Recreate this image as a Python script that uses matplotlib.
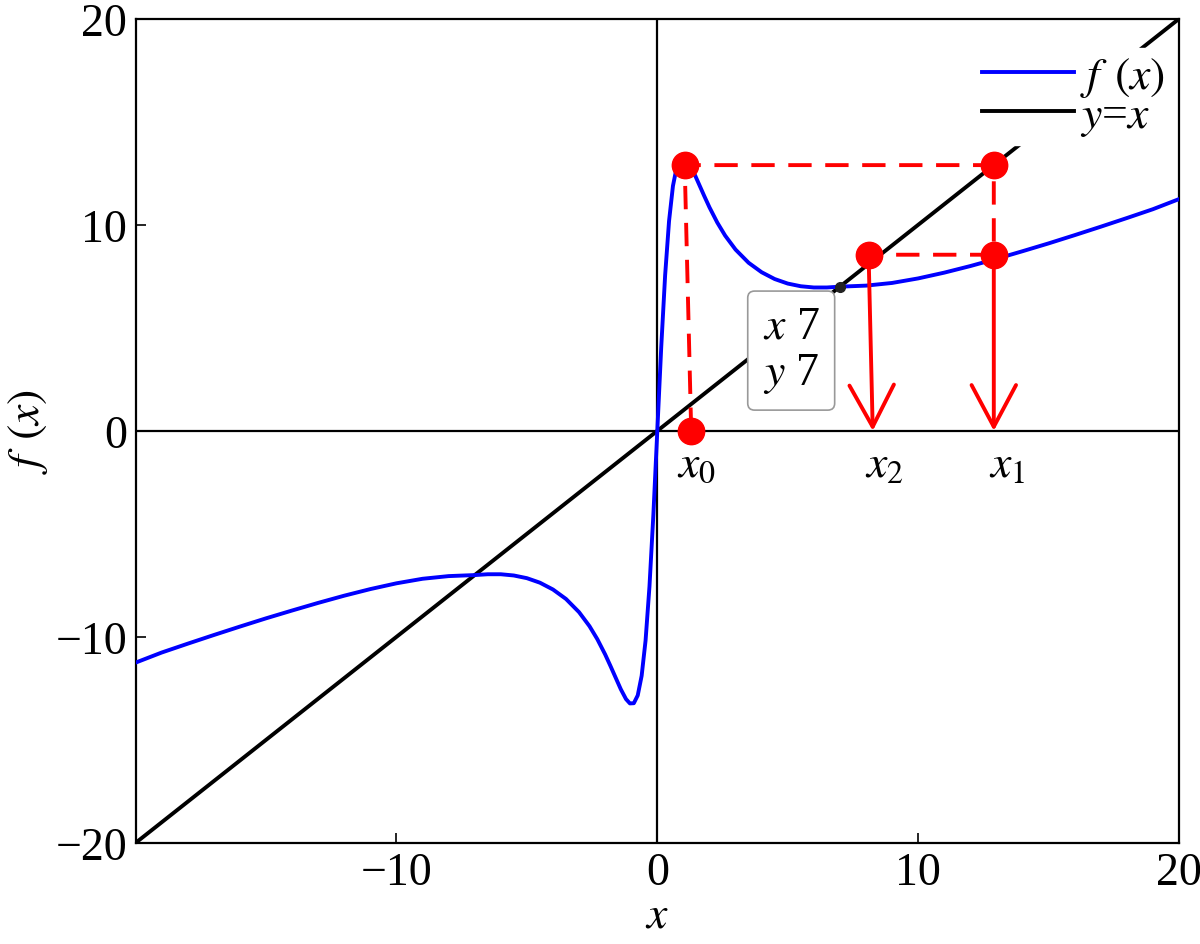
import numpy as np
import matplotlib.pyplot as plt

plt.rcParams['font.family'] = ['Liberation Serif', 'DejaVu Serif']
plt.rcParams['mathtext.fontset'] = 'stix'

# f(x) (odd symmetric curve)
x_pos = [0, 0.15, 0.3, 0.45, 0.6, 0.75, 0.9, 1.05, 1.2, 1.4, 1.6, 1.8, 2.0, 2.3, 2.6,
         3.0, 3.5, 4.0, 4.5, 5.0, 5.5, 6.0, 6.5, 7.0, 8.0, 9.0, 10, 11, 12, 13, 14,
         15, 16, 17, 18, 19, 20]
f_pos = [0, 4.05, 7.55, 10.18, 11.89, 12.84, 13.22, 13.23, 13.02, 12.54, 11.97, 11.40,
         10.85, 10.11, 9.48, 8.80, 8.16, 7.70, 7.37, 7.15, 7.02, 6.96, 6.96, 7.0, 7.05,
         7.18, 7.40, 7.68, 8.0, 8.35, 8.72, 9.10, 9.50, 9.91, 10.33, 10.76, 11.25]
x_neg = [-20, -19, -18, -17, -16, -15, -14, -13, -12, -11, -10, -9.0, -8.0, -7.0, -6.5,
         -6.0, -5.5, -5.0, -4.5, -4.0, -3.5, -3.0, -2.6, -2.3, -2.0, -1.8, -1.6, -1.4,
         -1.2, -1.05, -0.9, -0.75, -0.6, -0.45, -0.3, -0.15]
f_neg = [-11.25, -10.76, -10.33, -9.91, -9.50, -9.10, -8.72, -8.35, -8.0, -7.68, -7.40,
         -7.18, -7.05, -7.0, -6.96, -6.96, -7.02, -7.15, -7.37, -7.70, -8.16, -8.80,
         -9.48, -10.11, -10.85, -11.40, -11.97, -12.54, -13.02, -13.23, -13.22, -12.84,
         -11.89, -10.18, -7.55, -4.05]
curve_x = x_neg + x_pos
curve_y = f_neg + f_pos

line_x = [-20, 20]
line_y = [-20, 20]

# iteration points
dots_x = [1.3, 1.05, 12.9, 12.9, 8.1]
dots_y = [0, 12.9, 12.9, 8.55, 8.55]
dash_x = [1.3, 1.05, 12.9, 12.9, 8.1]
dash_y = [0, 12.9, 12.9, 8.55, 8.55]
arrow_start = [(8.1, 8.55), (12.9, 8.55)]
arrow_end = [(8.26, 0), (12.9, 0)]
labels = [r'$x_0$', r'$x_2$', r'$x_1$']
label_x = [1.5, 8.7, 13.4]
tip_x, tip_y = 7, 7

fig = plt.figure(figsize=(12, 9.45), dpi=100)
ax = fig.add_axes([0.113, 0.107, 0.8695, 0.872])

ax.axhline(0, color='black', lw=1.6, zorder=1)
ax.axvline(0, color='black', lw=1.6, zorder=1)
ax.plot(curve_x, curve_y, color='blue', lw=2.8, label=r'$f\;\,(x)$', zorder=3)
ax.plot(line_x, line_y, color='black', lw=2.8, label=r'$y$=$x$', zorder=2)

ax.plot(dash_x, dash_y, color='red', lw=2.8, dashes=(6, 3.5), zorder=4)
ax.plot(dots_x, dots_y, 'o', color='red', ms=19, zorder=5)
for s, e in zip(arrow_start, arrow_end):
    ax.annotate('', xy=e, xytext=s,
                arrowprops=dict(arrowstyle='->,head_length=3.0,head_width=1.6',
                                color='red', lw=2.8, shrinkA=0, shrinkB=0), zorder=4)
for lab, lx in zip(labels, label_x):
    ax.text(lx, -0.6, lab, fontsize=33, ha='center', va='top')

ax.text(6.22, 6.1, r'$x$ 7' + '\n' + r'$y$ 7', fontsize=33, ha='right', va='top',
        linespacing=1.1,
        bbox=dict(boxstyle='round,pad=0.33,rounding_size=0.15', fc='white', ec='#999999', lw=1.2),
        zorder=6)
ax.plot(tip_x, tip_y, 'o', color='#222222', ms=7, zorder=7)

ax.set_xlim(-20, 20)
ax.set_ylim(-20, 20)
ax.set_xticks([-10, 0, 10, 20])
ax.set_yticks([-20, -10, 0, 10, 20])
ax.tick_params(direction='in', length=7, width=1.2, labelsize=33, pad=6)
for sp in ax.spines.values():
    sp.set_linewidth(1.6)
ax.set_xlabel(r'$x$', fontsize=33, labelpad=0)
ax.set_ylabel(r'$f\;\,(x)$', fontsize=33, labelpad=4)

leg = ax.legend(loc='upper right', bbox_to_anchor=(0.998, 0.97), fontsize=33, frameon=True,
                handlelength=2.0, handletextpad=0.15, borderpad=0.15, labelspacing=-0.1,
                borderaxespad=0.1)
leg.get_frame().set_edgecolor('white')
leg.get_frame().set_facecolor('white')
leg.get_frame().set_alpha(1)
leg.get_frame().set_boxstyle('square', pad=0)

fig.savefig('out.png', dpi=100)
